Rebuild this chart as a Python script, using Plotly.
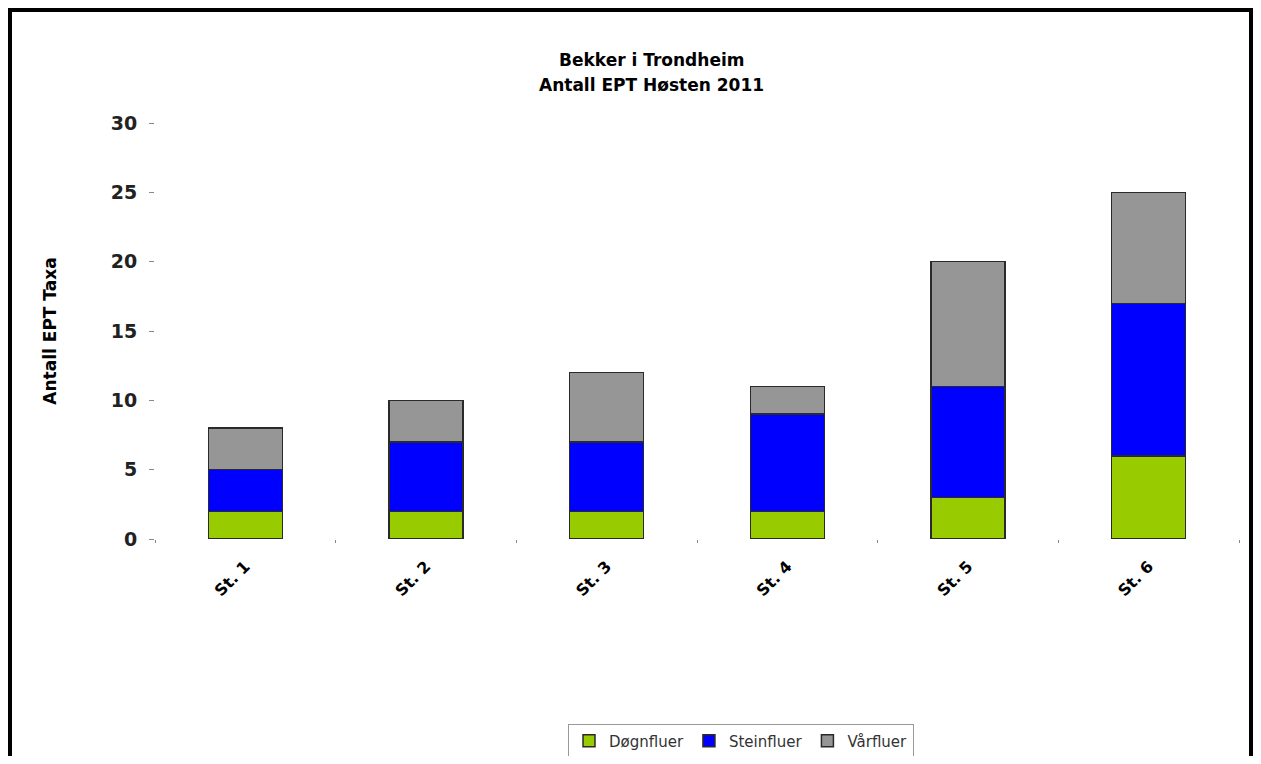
import plotly.graph_objects as go

categories = ["St. 1", "St. 2", "St. 3", "St. 4", "St. 5", "St. 6"]
dognfluer = [2, 2, 2, 2, 3, 6]
steinfluer = [3, 5, 5, 7, 8, 11]
varfluer = [3, 3, 5, 2, 9, 8]
series_names = ["Døgnfluer", "Steinfluer", "Vårfluer"]
series_colors = ["#99CC00", "#0000FF", "#969696"]
y_ticks = [0, 5, 10, 15, 20, 25, 30]
title_lines = ["Bekker i Trondheim", "Antall EPT Høsten 2011"]
y_title = "Antall EPT Taxa"

FONT = "DejaVu Sans"

fig = go.Figure()
for name, vals, col in zip(series_names, [dognfluer, steinfluer, varfluer], series_colors):
    fig.add_trace(go.Bar(
        x=categories, y=vals, name=name,
        marker=dict(color=col, line=dict(color="#2a2a2a", width=1.5)),
        width=0.41,
    ))

# page geometry (the plot div sits at an 8px offset, size 1245x748)
OFF = 8
CW, CH = 1245, 748
# plot area in page pixels
L, R, T, B = 155, 1239, 123, 539

def px2x(px):
    return (px - L) / (R - L)

def py2y(py):
    return (B - py) / (B - T)

fig.update_layout(
    barmode="stack",
    plot_bgcolor="white",
    paper_bgcolor="white",
    margin=dict(l=L - OFF, r=(OFF + CW) - R, t=T - OFF, b=(OFF + CH) - B),
    font=dict(family=FONT, color="#000000"),
    showlegend=True,
    legend=dict(
        orientation="h",
        xref="container", yref="container",
        x=(741 - OFF) / CW, xanchor="center",
        y=1 - (741 - OFF) / CH, yanchor="middle",
        bgcolor="white", bordercolor="#999999", borderwidth=1,
        font=dict(family=FONT, size=15, color="#333333"),
        traceorder="normal",
        itemwidth=30,
    ),
    xaxis=dict(
        showgrid=False, showline=False, zeroline=False,
        ticks="outside", tickson="boundaries", ticklen=3, tickcolor="#888888",
        tickangle=-45,
        ticklabelstandoff=14,
        tickfont=dict(family=FONT, size=16, color="#000000", weight="bold"),
    ),
    yaxis=dict(
        range=[0, 30], tickvals=y_ticks,
        showgrid=False, showline=False, zeroline=False,
        ticks="outside", ticklen=5, tickcolor="#888888",
        ticklabelstandoff=8,
        tickfont=dict(family=FONT, size=19, color="#222222", weight="bold"),
        title=dict(text=y_title, standoff=49,
                   font=dict(family=FONT, size=17, color="#000000", weight="bold")),
    ),
)

for i, line in enumerate(title_lines):
    fig.add_annotation(
        text=line, xref="paper", yref="paper",
        x=px2x(651), y=py2y(60 + 25 * i), xanchor="center", yanchor="middle",
        showarrow=False,
        font=dict(family=FONT, size=17, color="#000000", weight="bold"),
    )

# outer frame
fig.add_shape(type="rect", xref="paper", yref="paper",
              x0=px2x(10), x1=px2x(1251), y0=py2y(800), y1=py2y(10),
              line=dict(color="#000000", width=4), fillcolor="rgba(0,0,0,0)",
              layer="above")

fig.write_html("out.html")
